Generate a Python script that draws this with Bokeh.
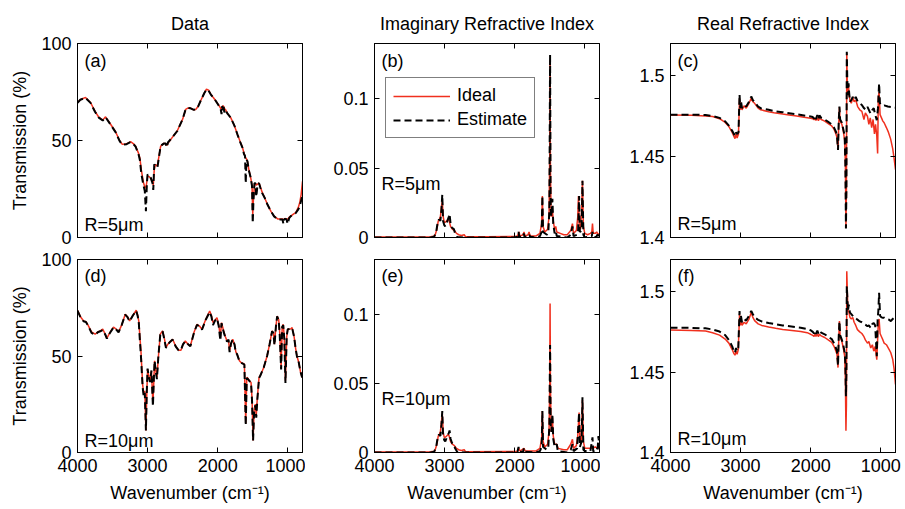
from bokeh.plotting import figure
from bokeh.layouts import column, row
from bokeh.models import (Range1d, FixedTicker, LinearAxis, Label, Legend,
                          LegendItem, NumeralTickFormatter, Title)
from bokeh.embed import file_html
from bokeh.resources import INLINE

# ---------------- data ----------------
COL_TITLES = ["Data", "Imaginary Refractive Index", "Real Refractive Index"]
PANEL_TAGS = ["(a)", "(b)", "(c)", "(d)", "(e)", "(f)"]
RADIUS_TAGS = ["R=5\u03bcm", "R=10\u03bcm"]
X_TICKS = [4000, 3000, 2000, 1000]
Y_TICKS_T = [0, 50, 100]
Y_TICKS_K = [0, 0.05, 0.1]
Y_TICKS_N = [1.4, 1.45, 1.5]

# (a) transmission, R=5um
a_x = [4000, 3960, 3886, 3814, 3750, 3696, 3640, 3600, 3540, 3457,
       3400, 3361, 3300, 3243, 3200, 3171, 3130, 3110, 3090, 3060,
       3040, 3024, 3010, 3000, 2980, 2957, 2930, 2919, 2905, 2890,
       2860, 2814, 2770, 2743, 2725, 2710, 2650, 2576, 2500, 2457,
       2420, 2386, 2340, 2314, 2280, 2243, 2190, 2160, 2130, 2100,
       2060, 2029, 1990, 1957, 1945, 1935, 1925, 1915, 1905, 1890,
       1860, 1814, 1760, 1719, 1680, 1647, 1625, 1610, 1600, 1590,
       1576, 1555, 1530, 1510, 1500, 1490, 1475, 1462, 1450, 1430,
       1410, 1390, 1367, 1330, 1290, 1240, 1195, 1140, 1076, 1062,
       1050, 1040, 1020, 1000, 980, 957, 920, 886, 850, 829,
       810, 790]
a_ideal = [69.6, 71.0, 72.2, 69.6, 65.0, 62.0, 60.5, 62.2, 59.0, 54.5,
           50.0, 48.0, 48.3, 49.4, 48.3, 47.0, 43.5, 41.0, 35.0, 28.5,
           26.0, 25.5, 29.0, 31.5, 31.5, 30.5, 29.0, 27.0, 35.0, 37.5,
           37.0, 47.0, 48.5, 48.5, 47.5, 48.5, 51.5, 55.0, 61.0, 66.0,
           66.8, 66.6, 65.8, 66.0, 67.5, 70.5, 74.5, 76.5, 76.0, 74.0,
           72.0, 70.5, 68.5, 66.5, 66.0, 67.0, 68.0, 67.5, 66.5, 66.0,
           64.0, 61.8, 57.5, 53.2, 49.5, 46.5, 43.5, 42.0, 41.0, 40.5,
           39.4, 35.0, 31.0, 27.0, 12.0, 20.0, 27.0, 28.0, 27.0, 27.5,
           28.0, 26.0, 23.5, 20.5, 17.0, 13.5, 11.0, 9.5, 9.5, 9.3,
           9.5, 9.8, 9.6, 9.5, 10.5, 11.0, 12.0, 12.8, 15.5, 18.0,
           22.0, 29.0]
a_est = [69.4, 71.0, 72.0, 69.4, 64.8, 61.8, 60.3, 62.0, 58.8, 54.3,
         49.8, 47.8, 48.1, 49.2, 48.1, 46.8, 43.0, 40.0, 33.0, 27.0,
         24.0, 13.5, 28.0, 32.5, 32.0, 31.0, 28.0, 24.5, 37.7, 37.0,
         36.0, 47.2, 48.4, 48.4, 46.5, 49.0, 51.5, 54.9, 61.0, 66.1,
         66.8, 66.6, 65.8, 66.0, 67.5, 70.5, 74.5, 76.3, 75.6, 73.8,
         72.0, 70.5, 68.3, 66.1, 63.6, 67.8, 65.5, 67.5, 64.5, 66.0,
         63.8, 61.8, 57.5, 53.2, 49.3, 46.3, 43.0, 42.0, 28.0, 40.0,
         39.4, 34.5, 31.0, 26.5, 7.4, 19.0, 28.0, 28.0, 21.0, 27.5,
         28.0, 25.5, 23.0, 20.5, 17.0, 13.5, 10.9, 9.3, 9.3, 7.0,
         9.3, 9.6, 9.4, 7.0, 10.0, 11.0, 12.0, 12.6, 14.5, 16.0,
         19.0, 22.0]

# (d) transmission, R=10um
d_x = [4000, 3960, 3914, 3880, 3850, 3800, 3748, 3710, 3676, 3640,
       3600, 3581, 3540, 3486, 3450, 3414, 3370, 3319, 3290, 3257,
       3210, 3162, 3140, 3125, 3110, 3095, 3080, 3071, 3055, 3040,
       3024, 3012, 3000, 2985, 2965, 2945, 2924, 2910, 2900, 2885,
       2867, 2845, 2819, 2786, 2760, 2738, 2710, 2680, 2643, 2600,
       2560, 2524, 2495, 2462, 2420, 2390, 2340, 2295, 2260, 2224,
       2170, 2114, 2090, 2067, 2040, 2010, 1985, 1962, 1945, 1915,
       1890, 1867, 1845, 1830, 1810, 1786, 1760, 1740, 1724, 1690,
       1667, 1640, 1619, 1600, 1585, 1571, 1545, 1524, 1510, 1495,
       1480, 1462, 1450, 1435, 1410, 1390, 1343, 1295, 1260, 1224,
       1205, 1190, 1170, 1152, 1130, 1115, 1095, 1080, 1065, 1050,
       1033, 1015, 1000, 960, 938, 910, 890, 870, 843, 820,
       795]
d_ideal = [73.7, 70.5, 68.2, 67.8, 66.0, 62.5, 61.3, 62.5, 63.0, 63.9,
           61.0, 59.2, 62.0, 65.0, 64.0, 62.5, 66.0, 71.6, 70.5, 68.2,
           71.0, 73.7, 71.0, 68.0, 60.0, 52.7, 42.0, 35.5, 30.3, 32.0,
           11.4, 30.0, 43.2, 40.0, 37.2, 42.0, 25.1, 38.0, 47.5, 43.0,
           38.9, 50.0, 61.3, 63.0, 59.0, 54.4, 56.1, 57.5, 58.7, 55.2,
           53.0, 53.0, 56.0, 57.8, 56.0, 55.2, 62.0, 66.4, 65.5, 63.9,
           69.0, 73.3, 71.0, 67.3, 68.5, 69.9, 66.0, 60.0, 67.3, 63.0,
           60.0, 57.8, 58.0, 52.7, 56.0, 58.7, 56.0, 52.0, 51.0, 47.5,
           46.6, 46.2, 45.8, 15.0, 38.9, 38.5, 37.0, 36.3, 28.0, 6.2,
           22.0, 25.1, 19.0, 28.0, 38.9, 40.0, 44.0, 50.0, 56.0, 63.0,
           62.0, 56.1, 65.0, 70.7, 69.0, 62.0, 44.0, 65.0, 66.4, 60.0,
           37.2, 60.0, 63.9, 64.0, 64.7, 60.0, 54.4, 50.0, 46.6, 42.0,
           38.9]
d_est = [73.5, 70.3, 68.0, 67.6, 65.8, 62.0, 61.0, 62.3, 62.8, 63.5,
         60.8, 59.0, 61.8, 64.8, 63.8, 62.3, 66.0, 71.4, 70.3, 68.0,
         71.0, 73.5, 70.5, 67.0, 58.0, 50.0, 40.0, 34.0, 29.0, 31.0,
         11.4, 31.0, 43.5, 39.5, 36.5, 42.5, 24.0, 39.0, 47.5, 42.5,
         38.0, 50.5, 61.0, 62.8, 58.5, 54.2, 56.0, 57.3, 58.5, 55.0,
         53.0, 53.2, 56.0, 57.6, 56.0, 55.0, 61.8, 66.2, 65.3, 63.7,
         68.8, 72.8, 70.5, 66.0, 68.2, 69.5, 65.5, 58.0, 67.0, 62.5,
         59.5, 57.5, 58.5, 52.0, 56.5, 58.5, 56.0, 51.5, 51.0, 47.3,
         46.5, 46.0, 45.5, 14.0, 38.5, 38.2, 37.0, 36.0, 27.0, 6.2,
         21.0, 24.5, 18.0, 27.0, 38.5, 40.0, 44.0, 50.0, 56.0, 62.8,
         62.0, 55.5, 65.0, 70.5, 68.5, 61.0, 43.0, 65.0, 66.0, 59.0,
         36.0, 60.5, 63.9, 64.0, 64.5, 60.0, 54.4, 50.0, 46.6, 42.0,
         38.9]

# (b) imaginary index, R=5um
b_x_ideal = [4000, 3500, 3200, 3140, 3110, 3090, 3075, 3060, 3045, 3033,
             3020, 3005, 2990, 2970, 2950, 2935, 2915, 2890, 2860, 2830,
             2800, 2760, 2720, 2700, 2400, 2000, 1960, 1938, 1925, 1880,
             1867, 1850, 1810, 1795, 1780, 1700, 1640, 1615, 1605, 1595,
             1570, 1530, 1510, 1500, 1495, 1490, 1480, 1470, 1462, 1450,
             1430, 1414, 1400, 1350, 1300, 1250, 1200, 1176, 1160, 1120,
             1100, 1090, 1080, 1060, 1045, 1033, 1020, 1000, 960, 920,
             900, 890, 880, 850, 830, 810, 790]
b_ideal = [0.0003, 0.0003, 0.0005, 0.001, 0.006, 0.012, 0.013, 0.015, 0.022, 0.026,
           0.015, 0.011, 0.011, 0.012, 0.013, 0.012, 0.008, 0.006, 0.005, 0.003,
           0.002, 0.0015, 0.002, 0.0005, 0.0005, 0.0008, 0.001, 0.004, 0.001, 0.002,
           0.004, 0.001, 0.002, 0.004, 0.001, 0.001, 0.003, 0.010, 0.030, 0.008,
           0.004, 0.006, 0.015, 0.060, 0.128, 0.050, 0.015, 0.020, 0.020, 0.012,
           0.006, 0.008, 0.004, 0.003, 0.002, 0.002, 0.005, 0.010, 0.003, 0.005,
           0.015, 0.030, 0.010, 0.006, 0.020, 0.041, 0.008, 0.003, 0.002, 0.003,
           0.004, 0.010, 0.003, 0.003, 0.004, 0.002, 0.003]
b_x_est = [4000, 3200, 3150, 3120, 3095, 3081, 3060, 3045, 3033, 3022,
           3005, 2990, 2960, 2940, 2929, 2915, 2895, 2867, 2850, 2819,
           2700, 2000, 1960, 1945, 1935, 1880, 1870, 1860, 1800, 1790,
           1780, 1700, 1640, 1615, 1605, 1595, 1540, 1520, 1505, 1495,
           1487, 1475, 1462, 1450, 1430, 1414, 1400, 1250, 1200, 1176,
           1160, 1110, 1095, 1081, 1070, 1045, 1033, 1020, 1000, 900,
           890, 880, 840, 820, 790]
b_est = [0, 0, 0.0005, 0.004, 0.012, 0.013, 0.012, 0.020, 0.031, 0.012,
         0.009, 0.008, 0.012, 0.015, 0.017, 0.010, 0.007, 0.006, 0.003, 0.0003,
         0, 0, 0.0005, 0.004, 0.0005, 0.0005, 0.003, 0.0005, 0.0005, 0.002,
         0.0005, 0, 0.001, 0.004, 0.030, 0.004, 0.002, 0.004, 0.020, 0.132,
         0.020, 0.015, 0.028, 0.010, 0.003, 0.005, 0.001, 0, 0.002, 0.008,
         0.001, 0.002, 0.005, 0.030, 0.004, 0.005, 0.041, 0.002, 0, 0.001,
         0.004, 0.0005, 0, 0.002, 0.001]

# (e) imaginary index, R=10um
e_x_ideal = [4000, 3200, 3140, 3110, 3090, 3075, 3060, 3045, 3033, 3020,
             3005, 2990, 2970, 2950, 2935, 2915, 2890, 2860, 2830, 2800,
             2760, 2720, 2700, 2000, 1960, 1938, 1925, 1867, 1850, 1700,
             1640, 1615, 1605, 1595, 1570, 1530, 1510, 1500, 1495, 1490,
             1480, 1462, 1450, 1430, 1400, 1380, 1300, 1250, 1200, 1176,
             1160, 1120, 1100, 1081, 1070, 1050, 1033, 1020, 1000, 900,
             850, 820, 790]
e_ideal = [0.0003, 0.0005, 0.001, 0.006, 0.012, 0.013, 0.015, 0.022, 0.028, 0.015,
           0.011, 0.011, 0.012, 0.013, 0.012, 0.008, 0.006, 0.005, 0.003, 0.002,
           0.0015, 0.002, 0.0005, 0.0008, 0.001, 0.003, 0.001, 0.003, 0.001, 0.001,
           0.003, 0.010, 0.030, 0.008, 0.004, 0.006, 0.015, 0.050, 0.108, 0.050,
           0.015, 0.025, 0.012, 0.006, 0.006, 0.003, 0.002, 0.002, 0.006, 0.0096,
           0.003, 0.005, 0.012, 0.029, 0.010, 0.008, 0.038, 0.008, 0.003, 0.003,
           0.004, 0.003, 0.004]
e_x_est = [4000, 3200, 3150, 3120, 3095, 3081, 3060, 3045, 3033, 3022,
           3005, 2990, 2960, 2940, 2929, 2915, 2895, 2867, 2850, 2819,
           2700, 2000, 1960, 1945, 1935, 1880, 1870, 1860, 1700, 1640,
           1615, 1605, 1595, 1540, 1520, 1505, 1495, 1487, 1475, 1462,
           1450, 1430, 1400, 1385, 1250, 1200, 1176, 1160, 1110, 1081,
           1070, 1045, 1033, 1020, 1000, 920, 890, 880, 840, 815,
           805, 790]
e_est = [0, 0, 0.0005, 0.004, 0.012, 0.013, 0.012, 0.020, 0.030, 0.012,
         0.009, 0.008, 0.012, 0.014, 0.016, 0.010, 0.007, 0.006, 0.003, 0.0003,
         0, 0, 0.0005, 0.004, 0.0005, 0.0005, 0.003, 0.0005, 0, 0.001,
         0.004, 0.030, 0.004, 0.002, 0.004, 0.020, 0.078, 0.020, 0.015, 0.028,
         0.010, 0.004, 0.006, 0.001, 0, 0.002, 0.006, 0.001, 0.003, 0.029,
         0.004, 0.008, 0.040, 0.002, 0.001, 0.001, 0.011, 0.001, 0.0005, 0.004,
         0.012, 0.002]

# (c) real index, R=5um
c_x_ideal = [4000, 3700, 3500, 3400, 3300, 3220, 3167, 3120, 3095, 3080,
             3065, 3050, 3030, 3015, 3005, 2995, 2980, 2950, 2920, 2880,
             2848, 2825, 2800, 2750, 2714, 2600, 2524, 2400, 2333, 2200,
             2095, 2000, 1970, 1952, 1940, 1925, 1905, 1890, 1875, 1850,
             1800, 1750, 1700, 1667, 1640, 1625, 1610, 1600, 1590, 1580,
             1555, 1535, 1515, 1505, 1497, 1490, 1485, 1478, 1470, 1460,
             1452, 1440, 1420, 1400, 1380, 1357, 1330, 1300, 1270, 1240,
             1220, 1190, 1170, 1150, 1130, 1110, 1090, 1075, 1057, 1045,
             1035, 1024, 1010, 990, 970, 952, 920, 890, 860, 830,
             810, 790]
c_ideal = [1.4758, 1.4756, 1.4752, 1.4748, 1.4735, 1.4712, 1.4686, 1.4650, 1.4625, 1.4612,
           1.4640, 1.4615, 1.4640, 1.4860, 1.4790, 1.4835, 1.4790, 1.4815, 1.4800, 1.4830,
           1.4862, 1.4840, 1.4830, 1.4800, 1.4790, 1.4778, 1.4772, 1.4764, 1.4760, 1.4752,
           1.4744, 1.4738, 1.4735, 1.4728, 1.4738, 1.4725, 1.4740, 1.4722, 1.4738, 1.4730,
           1.4720, 1.4705, 1.4690, 1.4670, 1.4640, 1.4620, 1.4545, 1.4700, 1.4805, 1.4720,
           1.4700, 1.4660, 1.4600, 1.4450, 1.4060, 1.4300, 1.5140, 1.4950, 1.4890, 1.4940,
           1.4880, 1.4850, 1.4830, 1.4870, 1.4840, 1.4850, 1.4810, 1.4790, 1.4780, 1.4730,
           1.4770, 1.4750, 1.4700, 1.4740, 1.4680, 1.4730, 1.4640, 1.4700, 1.4630, 1.4520,
           1.4870, 1.4900, 1.4760, 1.4740, 1.4720, 1.4710, 1.4680, 1.4650, 1.4610, 1.4550,
           1.4490, 1.4420]
c_x_est = [4000, 3700, 3500, 3400, 3300, 3220, 3167, 3120, 3095, 3080,
           3065, 3050, 3030, 3015, 3005, 2995, 2980, 2950, 2920, 2880,
           2848, 2825, 2800, 2750, 2714, 2600, 2524, 2400, 2333, 2200,
           2095, 2000, 1970, 1952, 1940, 1925, 1905, 1890, 1875, 1850,
           1800, 1750, 1700, 1667, 1640, 1625, 1610, 1600, 1590, 1580,
           1555, 1535, 1515, 1505, 1497, 1490, 1485, 1478, 1470, 1460,
           1452, 1440, 1420, 1400, 1380, 1357, 1330, 1300, 1270, 1240,
           1210, 1190, 1160, 1143, 1120, 1100, 1080, 1057, 1040, 1024,
           1012, 995, 970, 952, 900, 850, 786]
c_est = [1.4760, 1.4760, 1.4758, 1.4752, 1.4740, 1.4718, 1.4692, 1.4660, 1.4640, 1.4625,
         1.4650, 1.4640, 1.4650, 1.4885, 1.4800, 1.4845, 1.4800, 1.4820, 1.4810, 1.4840,
         1.4872, 1.4850, 1.4838, 1.4810, 1.4800, 1.4790, 1.4782, 1.4775, 1.4770, 1.4762,
         1.4755, 1.4748, 1.4745, 1.4735, 1.4752, 1.4732, 1.4758, 1.4730, 1.4755, 1.4740,
         1.4730, 1.4715, 1.4700, 1.4680, 1.4655, 1.4630, 1.4541, 1.4720, 1.4810, 1.4730,
         1.4710, 1.4670, 1.4630, 1.4448, 1.4056, 1.4300, 1.5149, 1.4980, 1.4880, 1.4953,
         1.4900, 1.4840, 1.4850, 1.4870, 1.4850, 1.4870, 1.4840, 1.4830, 1.4820, 1.4800,
         1.4790, 1.4808, 1.4780, 1.4767, 1.4790, 1.4800, 1.4760, 1.4726, 1.4800, 1.4953,
         1.4830, 1.4820, 1.4815, 1.4817, 1.4810, 1.4807, 1.4803]

# (f) real index, R=10um
f_x = [4000, 3700, 3500, 3400, 3300, 3220, 3167, 3120, 3095, 3080,
       3065, 3050, 3033, 3015, 3005, 2995, 2980, 2950, 2920, 2880,
       2848, 2825, 2800, 2750, 2700, 2600, 2500, 2400, 2300, 2143,
       2050, 2000, 1970, 1952, 1940, 1925, 1905, 1890, 1875, 1850,
       1800, 1750, 1700, 1667, 1640, 1625, 1610, 1600, 1590, 1580,
       1555, 1535, 1515, 1505, 1497, 1490, 1485, 1476, 1468, 1457,
       1440, 1420, 1400, 1380, 1357, 1333, 1300, 1270, 1240, 1220,
       1190, 1170, 1143, 1120, 1100, 1080, 1057, 1045, 1035, 1024,
       1010, 990, 970, 952, 920, 880, 857, 830, 810, 790]
f_ideal = [1.4762, 1.4758, 1.4755, 1.4745, 1.4730, 1.4705, 1.4680, 1.4640, 1.4615, 1.4605,
           1.4630, 1.4610, 1.4640, 1.4860, 1.4790, 1.4830, 1.4790, 1.4810, 1.4800, 1.4830,
           1.4870, 1.4840, 1.4820, 1.4800, 1.4790, 1.4780, 1.4772, 1.4765, 1.4760, 1.4752,
           1.4745, 1.4735, 1.4728, 1.4722, 1.4735, 1.4722, 1.4738, 1.4720, 1.4735, 1.4725,
           1.4715, 1.4700, 1.4685, 1.4660, 1.4630, 1.4610, 1.4528, 1.4700, 1.4818, 1.4720,
           1.4690, 1.4650, 1.4600, 1.4450, 1.4135, 1.4300, 1.5127, 1.4980, 1.4880, 1.4878,
           1.4840, 1.4830, 1.4840, 1.4810, 1.4790, 1.4764, 1.4750, 1.4740, 1.4720, 1.4700,
           1.4680, 1.4690, 1.4650, 1.4670, 1.4630, 1.4660, 1.4577, 1.4700, 1.4810, 1.4830,
           1.4740, 1.4720, 1.4700, 1.4680, 1.4670, 1.4640, 1.4620, 1.4580, 1.4520, 1.4423]
f_est = [1.4776, 1.4775, 1.4772, 1.4765, 1.4752, 1.4730, 1.4700, 1.4660, 1.4630, 1.4620,
         1.4650, 1.4630, 1.4650, 1.4880, 1.4810, 1.4850, 1.4810, 1.4830, 1.4820, 1.4850,
         1.4880, 1.4860, 1.4840, 1.4825, 1.4815, 1.4805, 1.4798, 1.4790, 1.4785, 1.4776,
         1.4768, 1.4760, 1.4750, 1.4740, 1.4755, 1.4738, 1.4758, 1.4740, 1.4755, 1.4745,
         1.4735, 1.4720, 1.4705, 1.4680, 1.4650, 1.4630, 1.4540, 1.4720, 1.4815, 1.4730,
         1.4700, 1.4670, 1.4620, 1.4550, 1.4350, 1.4500, 1.5034, 1.4951, 1.4880, 1.4920,
         1.4870, 1.4860, 1.4850, 1.4840, 1.4835, 1.4826, 1.4815, 1.4810, 1.4800, 1.4795,
         1.4785, 1.4790, 1.4775, 1.4800, 1.4805, 1.4790, 1.4598, 1.4826, 1.4880, 1.4993,
         1.4850, 1.4840, 1.4838, 1.4838, 1.4830, 1.4825, 1.4817, 1.4830, 1.4838, 1.4835]

# ---------------- styling ----------------
FONT = "Liberation Sans"
FS_TICK = "18px"
FS_LABEL = "18px"
FS_TITLE = "18px"
FS_TAG = "18px"
FS_LEGEND = "18px"
RED = "#f0301e"
X_RANGE = (4000, 790)

COLS = [(305, 77, 3), (295, 69, 1), (305, 70, 10)]    # width, left border, right border
ROWS = [(250, 43, 13), (259, 9, 57)]                   # height, top border, bottom border


def style_axis(ax, ticks, show_labels):
    ax.ticker = FixedTicker(ticks=ticks)
    ax.major_tick_in = 5
    ax.major_tick_out = 0
    ax.minor_tick_in = 0
    ax.minor_tick_out = 0
    ax.axis_line_color = "black"
    ax.major_tick_line_color = "black"
    ax.major_label_text_font = FONT
    ax.axis_label_text_font = FONT
    ax.axis_label_text_font_size = FS_LABEL
    ax.axis_label_text_font_style = "normal"
    ax.axis_label_text_color = "black"
    ax.formatter = NumeralTickFormatter(format="0.[00]")
    if show_labels:
        ax.major_label_text_color = "black"
        ax.major_label_text_font_size = FS_TICK
        ax.major_label_standoff = 6
    else:
        ax.major_label_text_color = None
        ax.major_label_text_font_size = "0px"
        ax.major_label_standoff = 0


def panel(r, c, xi, yi, xe, ye, yrange, yticks, tag, rtag, rtag_y, legend=False):
    w, bl, br = COLS[c]
    h, bt, bb = ROWS[r]
    p = figure(width=w, height=h, output_backend="svg", toolbar_location=None,
               x_range=Range1d(*X_RANGE), y_range=Range1d(*yrange),
               min_border_left=bl, min_border_right=br,
               min_border_top=bt, min_border_bottom=bb)
    p.grid.visible = False
    p.outline_line_color = "black"
    p.outline_line_width = 1
    p.background_fill_color = "white"
    p.border_fill_color = "white"

    style_axis(p.xaxis[0], X_TICKS, r == 1)
    style_axis(p.yaxis[0], yticks, True)
    if r == 1:
        p.xaxis[0].axis_label = "Wavenumber (cm\u207b\u00b9)"
        p.xaxis[0].axis_label_standoff = 8
    if c == 0:
        p.yaxis[0].axis_label = "Transmission (%)"
        p.yaxis[0].axis_label_standoff = 8
    top = LinearAxis()
    style_axis(top, X_TICKS, False)
    p.add_layout(top, "above")
    right = LinearAxis()
    style_axis(right, yticks, False)
    p.add_layout(right, "right")

    if r == 0:
        p.title = Title(text=COL_TITLES[c], align="center", text_font=FONT,
                        text_font_size=FS_TITLE, text_font_style="normal",
                        text_color="black", standoff=20)

    l1 = p.line(xi, yi, line_color=RED, line_width=1.5)
    l2 = p.line(xe, ye, line_color="black", line_width=2, line_dash="7 4")

    p.add_layout(Label(x=7, y=177, x_units="screen", y_units="screen", text=tag,
                       text_font=FONT, text_font_size=FS_TAG, text_baseline="middle",
                       text_color="black"))
    p.add_layout(Label(x=7, y=rtag_y, x_units="screen", y_units="screen", text=rtag,
                       text_font=FONT, text_font_size=FS_TAG, text_baseline="middle",
                       text_color="black"))
    if legend:
        lg = Legend(items=[LegendItem(label="Ideal", renderers=[l1]),
                           LegendItem(label="Estimate", renderers=[l2])],
                    location=(11, 99), orientation="vertical",
                    label_text_font=FONT, label_text_font_size=FS_LEGEND,
                    label_text_color="black",
                    glyph_width=57, glyph_height=20, label_height=20,
                    label_standoff=7, padding=7, spacing=3, margin=0,
                    border_line_color="black", border_line_width=1,
                    background_fill_color="white", background_fill_alpha=1.0)
        p.add_layout(lg, "center")
    return p


pa = panel(0, 0, a_x, a_ideal, a_x, a_est, (0, 100), Y_TICKS_T, PANEL_TAGS[0], RADIUS_TAGS[0], 13)
pb = panel(0, 1, b_x_ideal, b_ideal, b_x_est, b_est, (0, 0.14), Y_TICKS_K, PANEL_TAGS[1], RADIUS_TAGS[0], 54, legend=True)
pc = panel(0, 2, c_x_ideal, c_ideal, c_x_est, c_est, (1.4, 1.52), Y_TICKS_N, PANEL_TAGS[2], RADIUS_TAGS[0], 14)
pd = panel(1, 0, d_x, d_ideal, d_x, d_est, (0, 100), Y_TICKS_T, PANEL_TAGS[3], RADIUS_TAGS[1], 12)
pe = panel(1, 1, e_x_ideal, e_ideal, e_x_est, e_est, (0, 0.14), Y_TICKS_K, PANEL_TAGS[4], RADIUS_TAGS[1], 54)
pf = panel(1, 2, f_x, f_ideal, f_x, f_est, (1.4, 1.52), Y_TICKS_N, PANEL_TAGS[5], RADIUS_TAGS[1], 14)

layout = column(row(pa, pb, pc, spacing=0), row(pd, pe, pf, spacing=0), spacing=0)
open("out.html", "w").write(file_html(layout, INLINE))
